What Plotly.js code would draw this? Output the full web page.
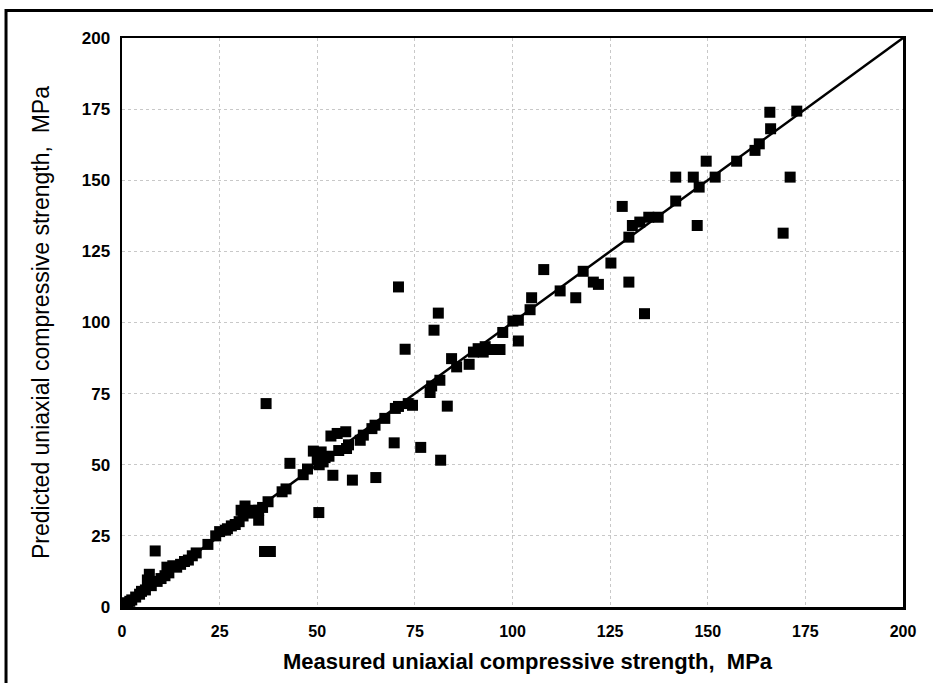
<!DOCTYPE html>
<html>
<head>
<meta charset="utf-8">
<script src="https://cdn.plot.ly/plotly-3.0.1.min.js"></script>
<style>html,body{margin:0;padding:0;background:#fff;}#chart{width:933px;height:683px;}</style>
</head>
<body>
<div id="chart"></div>
<script>
// Measured UCS (MPa)
const measured = [
  0.3,0.8,1.5,2,2.5,3.5,4.5,5,6,6.5,7,7.5,8.5,9,10,11,11.5,12,13,14,15,16,17,18,19,22,24,25,26.5,27,28,29,30,30.5,31,31.5,33,34,35,35,36,37.4,41,42,
  36.9,36.5,38,
  43,46.4,47.5,49,50,50.5,51,51.5,52,53,54,50.4,53.5,55.1,57.3,57.5,55.5,58,59,61,61.8,64,64.8,65,67.3,69.7,70,70.8,73.3,74.4,72.5,70.8,76.5,81.6,83.3,
  78.9,79.3,81.4,84.4,85.7,88.9,90,91.2,92.5,93,94.7,96.8,97.5,100.1,101.5,101.5,104.5,104.9,108,81,79.9,
  112.2,116.2,118.1,120.7,122,125.2,128.1,129.8,129.8,130.7,132.6,133.8,134.9,137.3,141.8,141.8,146.3,147.3,147.8,149.6,151.9,157.4,162.1,163.2,165.9,166.1,169.3,171.1,172.8
];
// Predicted UCS (MPa)
const predicted = [
  0.3,1.5,0.8,2,2.5,3.5,4.5,5.5,6,9.5,11.5,7.5,19.7,9,10,11,14,12,14.5,14,15,16,16.5,18,19,22,25,26.5,27,27.5,28.5,29,30,34,32,35.5,33,34,30.5,34,35,37,40.5,41.5,
  71.5,19.5,19.5,
  50.5,46.5,48.5,54.8,51.6,50,54.5,51,52.5,53,46.3,33.2,60.1,61,61.6,55.7,55,57,44.6,58.6,60.4,62.7,63.9,45.5,66.3,57.7,69.8,70.5,71.5,70.9,90.6,112.5,56.1,51.6,70.6,
  75.4,77.7,79.7,87.3,84.4,85.3,89.6,90.8,89.6,91.5,90.5,90.5,96.5,100.5,100.8,93.5,104.5,108.7,118.6,103.3,97.3,
  111.1,108.7,118,114.2,113.4,120.9,140.8,130,114.2,134.1,135.3,103.1,137,137,142.7,151.1,151.1,134.1,147.6,156.7,151.1,156.7,160.5,162.8,173.9,168.1,131.4,151.1,174.3
];
const lineX = [0, 200];
const lineY = [0, 200];
const tickVals = [0, 25, 50, 75, 100, 125, 150, 175, 200];
const tickText = ['0', '25', '50', '75', '100', '125', '150', '175', '200'];
const xTitle = 'Measured uniaxial compressive strength,  MPa';
const yTitle = 'Predicted uniaxial compressive strength,  MPa';

const font = 'Liberation Sans, Arial, sans-serif';
const traces = [
  {x: lineX, y: lineY, mode: 'lines', line: {color: '#000', width: 2.5}, hoverinfo: 'skip', showlegend: false},
  {x: measured, y: predicted, mode: 'markers', type: 'scatter',
   marker: {symbol: 'square', size: 11, color: '#000', line: {width: 0}}, showlegend: false}
];
const axisCommon = {
  range: [0, 200], tickvals: tickVals, ticktext: tickText,
  showline: true, linecolor: '#000', linewidth: 2.5, mirror: true,
  showgrid: true, gridcolor: '#c8c8c8', griddash: 'dot', gridwidth: 1,
  zeroline: false, ticks: '', fixedrange: true
};
const layout = {
  width: 933, height: 683,
  margin: {l: 122, r: 30, t: 37.5, b: 76},
  paper_bgcolor: '#fff', plot_bgcolor: '#fff',
  xaxis: Object.assign({}, axisCommon, {
    ticklabelstandoff: 8,
    tickfont: {family: font, size: 16, color: '#000', weight: 'bold'}
  }),
  yaxis: Object.assign({}, axisCommon, {
    ticklabelstandoff: 6,
    tickfont: {family: font, size: 17, color: '#000', weight: 'bold'},
    title: {text: yTitle, standoff: 26,
            font: {family: font, size: 23, color: '#000'}}
  }),
  annotations: [{text: xTitle, xref: 'paper', yref: 'paper', x: 0.52, y: -0.0966,
                 xanchor: 'center', yanchor: 'middle', showarrow: false,
                 font: {family: font, size: 22, color: '#000', weight: 'bold'}}],
  shapes: [{type: 'rect', xref: 'paper', yref: 'paper',
            x0: -0.1485, x1: 1.2, y0: -0.3, y1: 1.0483,
            line: {color: '#000', width: 3}, fillcolor: 'rgba(0,0,0,0)', layer: 'below'}]
};
Plotly.newPlot('chart', traces, layout, {displayModeBar: false, staticPlot: true});
</script>
</body>
</html>
